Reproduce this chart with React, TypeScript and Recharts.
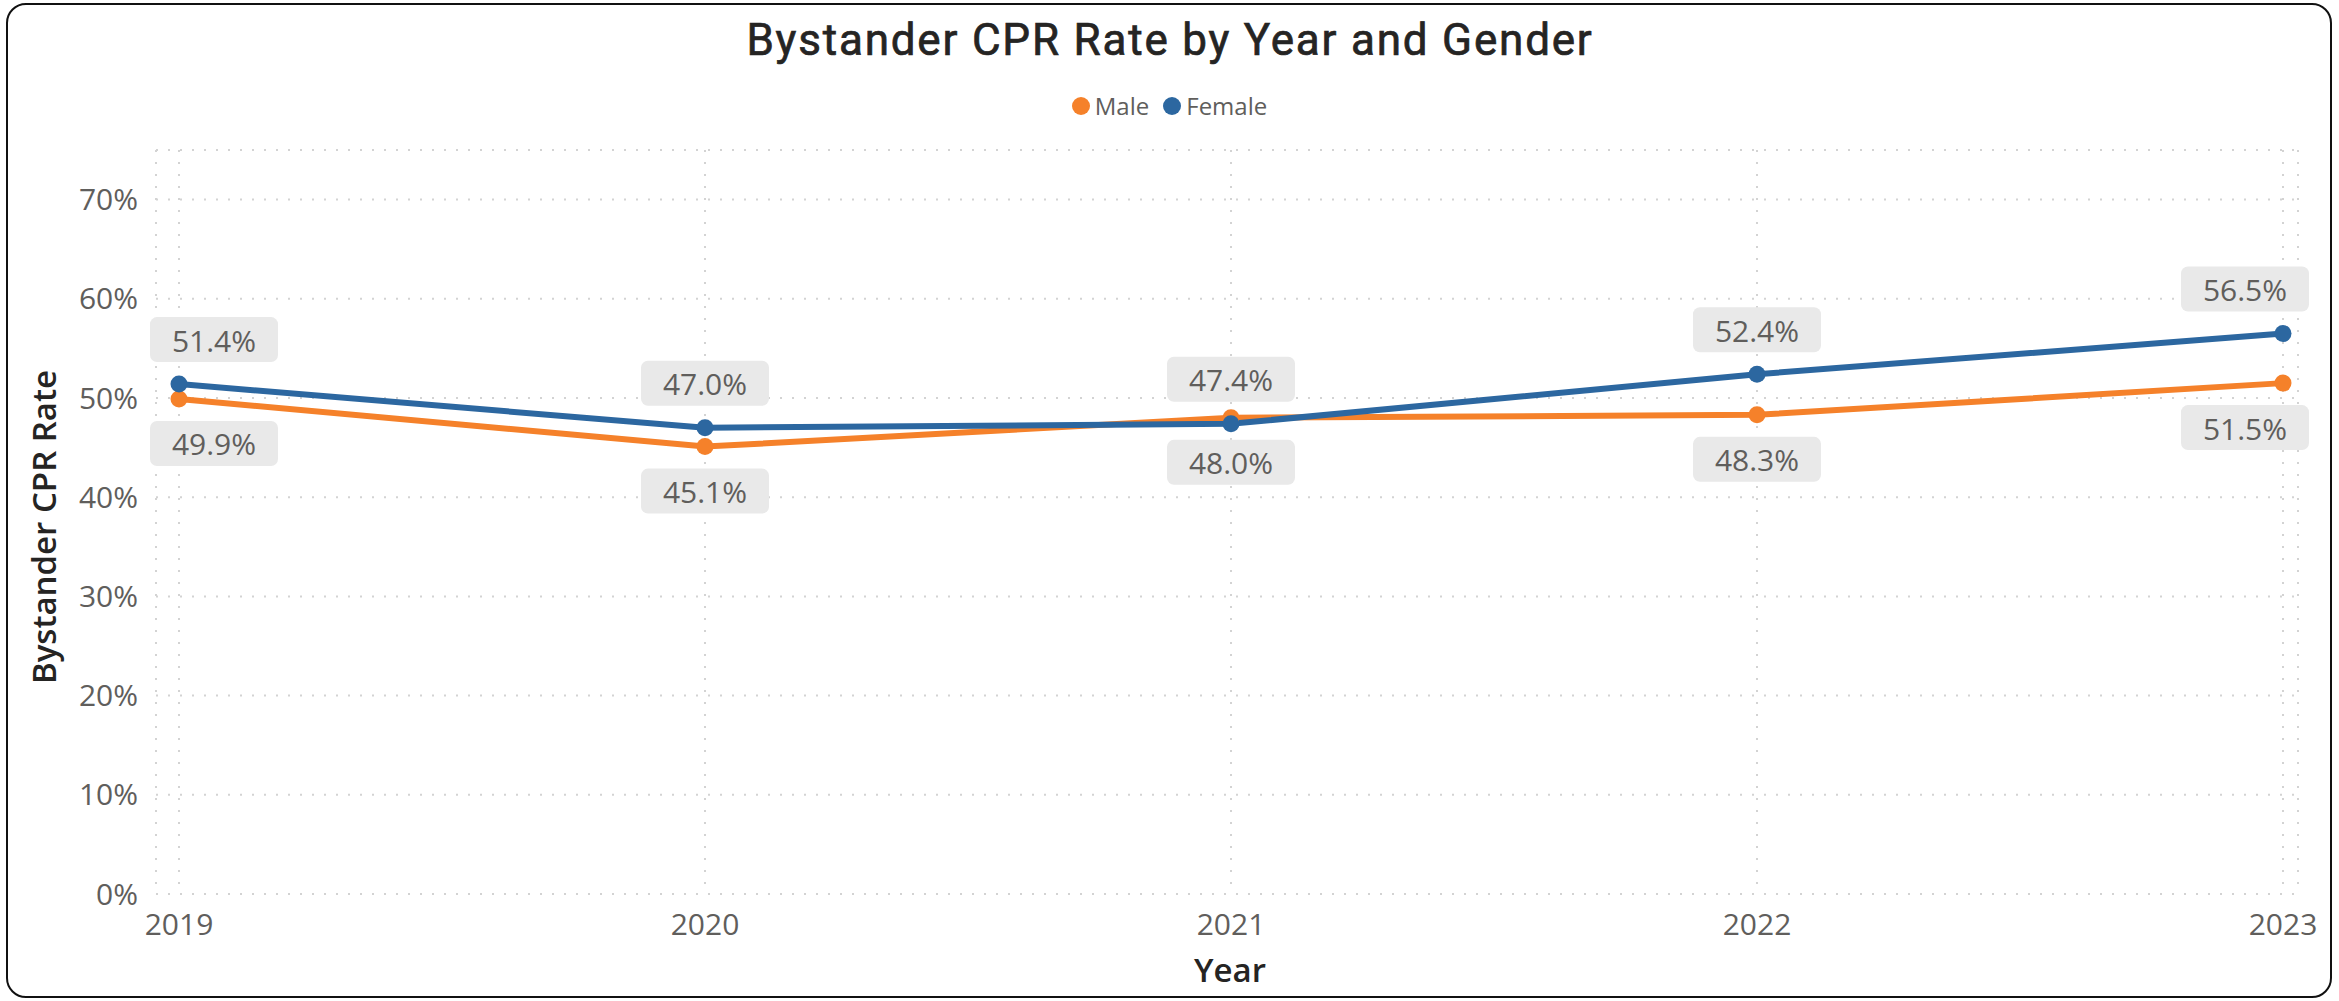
import React from 'react';
import { LineChart, Line, XAxis, YAxis, CartesianGrid, Legend, LabelList, Label } from 'recharts';

// ---- data ----
const years = ['2019', '2020', '2021', '2022', '2023'];
const maleRates = [0.499, 0.451, 0.48, 0.483, 0.515];
const femaleRates = [0.514, 0.47, 0.474, 0.524, 0.565];
const yTicks = [0, 0.1, 0.2, 0.3, 0.4, 0.5, 0.6, 0.7];
const seriesNames = ['Male', 'Female'];
const seriesColors = ['#F5812A', '#2C67A0'];
const chartTitle = 'Bystander CPR Rate by Year and Gender';
const xTitle = 'Year';
const yTitle = 'Bystander CPR Rate';

const data = years.map((year, i) => ({ year, Male: maleRates[i], Female: femaleRates[i] }));

// ---- style constants ----
const W = 2339;
const H = 1001;
const TICK_FONT = '"Open Sans", "Noto Sans", sans-serif';
const TITLE_FONT = 'Roboto, "Noto Sans", sans-serif';
const AXIS_TITLE_FONT = '"Open Sans", "Noto Sans", sans-serif';
const GRAY_TEXT = '#605E5C';
const DARK_TEXT = '#252423';
const LABEL_MIN_X = 150;
const LABEL_MAX_X = 2309;

const pct1 = (v: number) => `${(v * 100).toFixed(1)}%`;
const pct0 = (v: number) => `${Math.round(v * 100)}%`;

const makeDataLabel = (placement: 'above' | 'below') => (props: any) => {
  const { x, y, value } = props;
  if (x == null || y == null || value == null) return null;
  const w = 128;
  const h = 45;
  const gap = 22;
  let left = x - w / 2;
  left = Math.max(LABEL_MIN_X, Math.min(LABEL_MAX_X - w, left));
  const top = placement === 'above' ? y - gap - h : y + gap;
  return (
    <g>
      <rect x={left} y={top} width={w} height={h} rx={7} ry={7} fill="#E9E9E9" />
      <text
        x={left + w / 2}
        y={top + h / 2 + 12}
        textAnchor="middle"
        fontSize={30}
        fontFamily={TICK_FONT}
        fill={GRAY_TEXT}
      >
        {pct1(Number(value))}
      </text>
    </g>
  );
};

const LegendContent = () => (
  <div
    style={{
      display: 'flex',
      justifyContent: 'center',
      alignItems: 'center',
      height: 30,
      fontFamily: TICK_FONT,
      fontSize: 24,
      lineHeight: '30px',
      color: GRAY_TEXT,
    }}
  >
    {seriesNames.map((name, i) => (
      <div key={name} style={{ display: 'flex', alignItems: 'center', marginRight: i === 0 ? 14 : 0 }}>
        <span
          style={{
            display: 'inline-block',
            width: 18,
            height: 18,
            borderRadius: '50%',
            background: seriesColors[i],
            marginRight: 5,
          }}
        />
        <span>{name}</span>
      </div>
    ))}
  </div>
);

export default function App() {
  return (
    <div
      style={{
        position: 'fixed',
        left: 0,
        top: 0,
        width: W,
        height: H,
        background: '#fff',
        overflow: 'hidden',
      }}
    >
      <div
        style={{
          position: 'absolute',
          left: 6,
          top: 3,
          width: 2326,
          height: 995,
          border: '2.5px solid #111',
          borderRadius: 20,
          boxSizing: 'border-box',
        }}
      />
      <LineChart width={W} height={H} data={data} margin={{ top: 120, right: 41, bottom: 0, left: 0 }}>
        <CartesianGrid stroke="#D3D3D3" strokeWidth={2} strokeDasharray="2 10" />
        <XAxis
          dataKey="year"
          axisLine={false}
          tickLine={false}
          tickSize={0}
          tickMargin={20}
          height={107}
          padding={{ left: 23, right: 15 }}
          tick={{ fontSize: 30, fontFamily: TICK_FONT, fill: GRAY_TEXT }}
        >
          <Label
            content={(p: any) => {
              const vb = p.viewBox || {};
              return (
                <text
                  x={vb.x + vb.width / 2 + 3}
                  y={vb.y + 88}
                  textAnchor="middle"
                  fontSize={33}
                  fontWeight={600}
                  fontFamily={AXIS_TITLE_FONT}
                  fill={DARK_TEXT}
                >
                  {xTitle}
                </text>
              );
            }}
          />
        </XAxis>
        <YAxis
          width={156}
          domain={[0, 0.75]}
          ticks={yTicks}
          tickFormatter={pct0}
          axisLine={false}
          tickLine={false}
          tickSize={0}
          tickMargin={18}
          interval={0}
          tick={{ fontSize: 30, fontFamily: TICK_FONT, fill: GRAY_TEXT }}
        >
          <Label
            content={(p: any) => {
              const vb = p.viewBox || {};
              const cx = vb.x + 56;
              const cy = vb.y + vb.height / 2 + 5;
              return (
                <text
                  x={cx}
                  y={cy}
                  transform={`rotate(-90 ${cx} ${cy})`}
                  textAnchor="middle"
                  fontSize={33}
                  fontWeight={600}
                  fontFamily={AXIS_TITLE_FONT}
                  fill={DARK_TEXT}
                >
                  {yTitle}
                </text>
              );
            }}
          />
        </YAxis>
        <Legend
          verticalAlign="top"
          align="center"
          height={30}
          content={<LegendContent />}
          wrapperStyle={{ top: 91, left: 0, width: W }}
        />
        <Line
          type="linear"
          dataKey="Male"
          name={seriesNames[0]}
          stroke={seriesColors[0]}
          strokeWidth={6}
          dot={{ r: 8.5, fill: seriesColors[0], stroke: seriesColors[0], strokeWidth: 0 }}
          activeDot={false}
          isAnimationActive={false}
        >
          <LabelList dataKey="Male" content={makeDataLabel('below')} />
        </Line>
        <Line
          type="linear"
          dataKey="Female"
          name={seriesNames[1]}
          stroke={seriesColors[1]}
          strokeWidth={6}
          dot={{ r: 8.5, fill: seriesColors[1], stroke: seriesColors[1], strokeWidth: 0 }}
          activeDot={false}
          isAnimationActive={false}
        >
          <LabelList dataKey="Female" content={makeDataLabel('above')} />
        </Line>
      </LineChart>
      <svg
        width={W}
        height={H}
        style={{ position: 'absolute', left: 0, top: 0, pointerEvents: 'none' }}
      >
        <text
          x={1170}
          y={55}
          textAnchor="middle"
          fontSize={44}
          fontWeight={400}
          letterSpacing={1.8}
          fontFamily={TITLE_FONT}
          fill={DARK_TEXT}
          stroke={DARK_TEXT}
          strokeWidth={0.7}
        >
          {chartTitle}
        </text>
      </svg>
    </div>
  );
}
